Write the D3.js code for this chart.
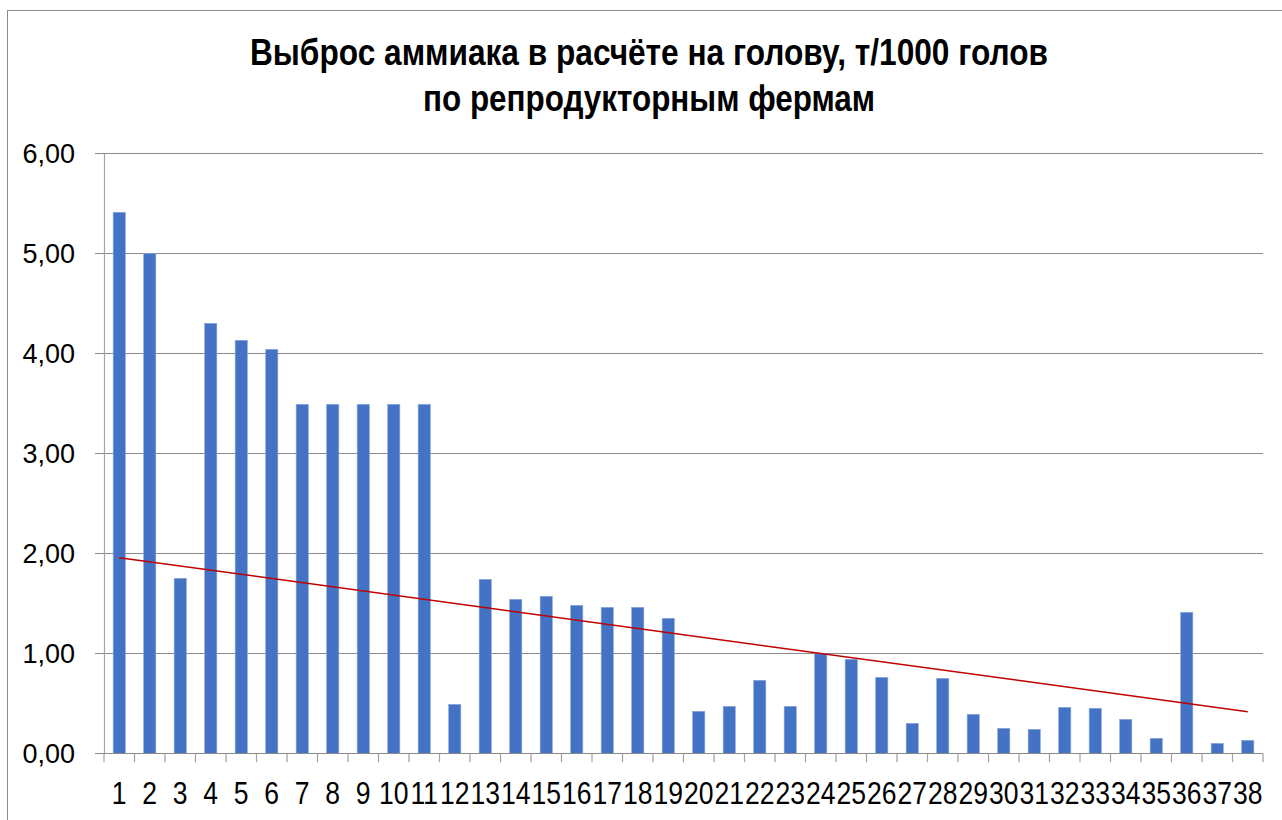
<!DOCTYPE html>
<html>
<head>
<meta charset="utf-8">
<script src="https://cdn.jsdelivr.net/npm/d3@7"></script>
<style>
  html, body { margin: 0; padding: 0; background: #fff; }
  svg { display: block; }
</style>
</head>
<body>
<svg id="chart" width="1282" height="820"></svg>
<script>
// Farm numbers (categories)
const farms = d3.range(1, 39).map(String);

// Ammonia emission per head, t/1000 heads
const emission = [
  5.41, 5.00, 1.75, 4.30, 4.13, 4.04, 3.49, 3.49, 3.49, 3.49,
  3.49, 0.49, 1.74, 1.54, 1.57, 1.48, 1.46, 1.46, 1.35, 0.42,
  0.47, 0.73, 0.47, 1.00, 0.94, 0.76, 0.30, 0.75, 0.39, 0.25,
  0.24, 0.46, 0.45, 0.34, 0.15, 1.41, 0.10, 0.13
];

// Trend line values at the first and last farm
const trendFarms = ["1", "38"];
const trendValues = [1.956, 0.416];

// Value axis ticks
const yTicks = [0, 1, 2, 3, 4, 5, 6];

// Title lines
const titleLines = [
  "Выброс аммиака в расчёте на голову, т/1000 голов",
  "по репродукторным фермам"
];

const svg = d3.select("#chart");

// Outer chart frame
svg.append("rect")
  .attr("x", 7.5).attr("y", 10.5)
  .attr("width", 1290).attr("height", 830)
  .attr("fill", "none")
  .attr("stroke", "#8c8c8c")
  .attr("stroke-width", 1);

const plot = { left: 104, right: 1263, top: 153.3, bottom: 753.3 };

const x = d3.scaleBand()
  .domain(farms)
  .range([plot.left, plot.right])
  .paddingInner(0.6)
  .paddingOuter(0.3);

const y = d3.scaleLinear()
  .domain([0, 6])
  .range([plot.bottom, plot.top]);

const fmt = v => d3.format(".2f")(v).replace(".", ",");

// Horizontal gridlines with outside ticks on the value axis
svg.append("g")
  .selectAll("line")
  .data(yTicks.filter(d => d > 0))
  .join("line")
  .attr("x1", plot.left - 9)
  .attr("x2", plot.right)
  .attr("y1", d => Math.round(y(d)) + 0.5)
  .attr("y2", d => Math.round(y(d)) + 0.5)
  .attr("stroke", "#8a8a8a")
  .attr("stroke-width", 1);

// Value axis labels
svg.append("g")
  .selectAll("text")
  .data(yTicks)
  .join("text")
  .attr("x", 75)
  .attr("y", d => y(d))
  .attr("dy", "0.36em")
  .attr("text-anchor", "end")
  .attr("font-family", "Liberation Sans, Arial, sans-serif")
  .attr("font-size", 27)
  .attr("fill", "#000")
  .text(fmt);

// Bars
svg.append("g")
  .selectAll("rect")
  .data(emission)
  .join("rect")
  .attr("x", (d, i) => x(farms[i]))
  .attr("width", x.bandwidth())
  .attr("y", d => y(d))
  .attr("height", d => y(0) - y(d))
  .attr("fill", "#4472c4")
  .attr("stroke", "#8eaadb")
  .attr("stroke-width", 0.6);

// Value axis line
svg.append("line")
  .attr("x1", plot.left + 0.5).attr("x2", plot.left + 0.5)
  .attr("y1", plot.top).attr("y2", plot.bottom)
  .attr("stroke", "#a6a6a6")
  .attr("stroke-width", 1.2);

// Category axis line and ticks at category boundaries
const step = x.step();
const boundaries = d3.range(farms.length + 1).map(i => i === farms.length
  ? x(farms[i - 1]) + x.bandwidth() + step * x.paddingInner() / 2
  : x(farms[i]) - step * x.paddingInner() / 2);

const xAxis = svg.append("g");
xAxis.append("line")
  .attr("x1", plot.left - 9).attr("x2", plot.right)
  .attr("y1", Math.round(y(0)) + 0.5).attr("y2", Math.round(y(0)) + 0.5)
  .attr("stroke", "#8a8a8a")
  .attr("stroke-width", 1.2);
xAxis.selectAll("line.tick")
  .data(boundaries)
  .join("line")
  .attr("class", "tick")
  .attr("x1", d => d).attr("x2", d => d)
  .attr("y1", y(0)).attr("y2", y(0) + 9)
  .attr("stroke", "#a0a0a0")
  .attr("stroke-width", 1.2);

// Category labels (condensed)
xAxis.selectAll("text")
  .data(farms)
  .join("text")
  .attr("transform", d => `translate(${x(d) + x.bandwidth() / 2},803.5) scale(0.87,1)`)
  .attr("text-anchor", "middle")
  .attr("font-family", "Liberation Sans, Arial, sans-serif")
  .attr("font-size", 30.5)
  .attr("fill", "#000")
  .text(d => d);

// Trend line
const line = d3.line()
  .x((d, i) => x(trendFarms[i]) + x.bandwidth() / 2)
  .y(d => y(d));
svg.append("path")
  .datum(trendValues)
  .attr("d", line)
  .attr("fill", "none")
  .attr("stroke", "#c00000")
  .attr("stroke-width", 1.5);

// Title
const titleWidths = [798, 452];
const titleBaselines = [65, 111];
svg.append("g")
  .selectAll("text")
  .data(titleLines)
  .join("text")
  .attr("x", 649)
  .attr("y", (d, i) => titleBaselines[i])
  .attr("text-anchor", "middle")
  .attr("font-family", "Liberation Sans, Arial, sans-serif")
  .attr("font-weight", "bold")
  .attr("font-size", 36)
  .attr("textLength", (d, i) => titleWidths[i])
  .attr("lengthAdjust", "spacingAndGlyphs")
  .attr("fill", "#000")
  .text(d => d);
</script>
</body>
</html>
